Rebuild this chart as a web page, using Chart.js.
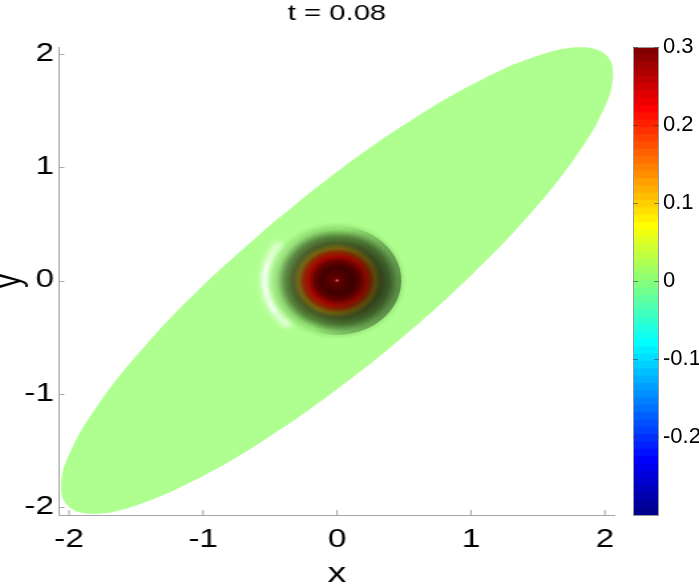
<!DOCTYPE html>
<html>
<head>
<meta charset="utf-8">
<script src="https://cdn.jsdelivr.net/npm/chart.js@4.4.1/dist/chart.umd.min.js"></script>
<style>
html,body{margin:0;padding:0;background:#fff;overflow:hidden}
/* the reference plot is stretched sideways, so is this one */
#chart{position:absolute;left:0;top:0;transform:scaleX(1.3289);transform-origin:0 0}
#cbar{position:absolute;left:615px;top:0}
</style>
</head>
<body>
<canvas id="chart" width="526" height="585"></canvas>
<canvas id="cbar" width="84" height="585"></canvas>
<script>
const titleText = 't = 0.08';
const xTicks = [-2, -1, 0, 1, 2];
const yTicks = [-2, -1, 0, 1, 2];
const cbarTicks = [-0.2, -0.1, 0, 0.1, 0.2, 0.3];
const cbarRange = [-0.3, 0.3];
const cbarLevels = 64;

// outline of the elliptic domain
const domainX = [-0.495, -0.996, -1.429, -1.764, -1.980, -2.060, -2.000, -1.804, -1.485, -1.064, -0.571, -0.040,
                 0.495, 0.996, 1.429, 1.764, 1.980, 2.060, 2.000, 1.804, 1.485, 1.064, 0.571, 0.040, -0.495];
const domainY = [0.495, -0.040, -0.571, -1.064, -1.485, -1.804, -2.000, -2.060, -1.980, -1.764, -1.429, -0.996,
                 -0.495, 0.040, 0.571, 1.064, 1.485, 1.804, 2.000, 2.060, 1.980, 1.764, 1.429, 0.996, 0.495];

// pulse at the origin: radius of each shade ring (data units)
const pulseR = [0, 0.018, 0.06, 0.12, 0.17, 0.215, 0.25, 0.285, 0.33, 0.39, 0.45, 0.52, 0.6];
const pulseColor = ['#ff7070', '#6a0000', '#560000', '#440000', '#6a0000', '#a80800', '#8e2800',
                    '#766410', '#465c26', '#56883c', '#90e070', '#afff90', '#afff90'];

const FONT = 'Liberation Sans, Arial, Helvetica, sans-serif';

// MATLAB jet(64), i = 1..64
function jet(i) {
  const u = k => (k < 1 || k > 47) ? 0 : k <= 16 ? k / 16 : k <= 31 ? 1 : (48 - k) / 16;
  const c = v => Math.round(v * 255);
  return 'rgb(' + c(u(i - 24)) + ',' + c(u(i - 8)) + ',' + c(u(i + 8)) + ')';
}

const pulsePlugin = {
  id: 'pulse',
  afterDatasetsDraw(chart) {
    const {ctx, chartArea: a, scales: {x, y}} = chart;
    const cx = x.getPixelForValue(0), cy = y.getPixelForValue(0);
    const sx = x.getPixelForValue(1) - cx, sy = cy - y.getPixelForValue(1);
    const R = pulseR[pulseR.length - 1];
    ctx.save();
    ctx.beginPath();
    ctx.rect(a.left, a.top, a.width, a.height);
    ctx.clip();
    ctx.translate(cx, cy);
    ctx.scale(sx, sy);
    const g = ctx.createRadialGradient(0, 0, 0, 0, 0, R);
    pulseR.forEach((r, k) => g.addColorStop(r / R, pulseColor[k]));
    ctx.fillStyle = g;
    ctx.beginPath();
    ctx.arc(0, 0, R, 0, Math.PI * 2);
    ctx.fill();

    // light from the left, shadow on the right
    ctx.save();
    ctx.beginPath();
    ctx.arc(0, 0, 0.48, 0, Math.PI * 2);
    ctx.clip();
    const lg = ctx.createLinearGradient(-0.48, -0.12, 0.48, 0.12);
    lg.addColorStop(0, 'rgba(255,255,255,0.12)');
    lg.addColorStop(0.42, 'rgba(0,0,0,0)');
    lg.addColorStop(1, 'rgba(0,0,0,0.42)');
    ctx.fillStyle = lg;
    ctx.fillRect(-0.5, -0.5, 1, 1);
    ctx.restore();

    // highlight on the lit rim
    ctx.lineCap = 'round';
    ctx.filter = 'blur(2.5px)';
    ctx.strokeStyle = 'rgba(255,255,255,0.8)';
    ctx.lineWidth = 0.05;
    ctx.beginPath();
    ctx.arc(0, 0, 0.54, Math.PI * 0.74, Math.PI * 1.2);
    ctx.stroke();
    ctx.filter = 'blur(1px)';
    ctx.strokeStyle = 'rgba(255,255,255,0.9)';
    ctx.lineWidth = 0.02;
    ctx.beginPath();
    ctx.arc(0, 0, 0.54, Math.PI * 0.83, Math.PI * 1.1);
    ctx.stroke();
    ctx.restore();
  }
};

const ticksPlugin = {
  id: 'inTicks',
  afterDraw(chart) {
    const {ctx, chartArea: a, scales: {x, y}} = chart;
    ctx.save();
    ctx.strokeStyle = '#a6a6a6';
    ctx.lineWidth = 1;
    ctx.beginPath();
    xTicks.forEach(v => {
      const px = x.getPixelForValue(v);
      ctx.moveTo(px, a.bottom);
      ctx.lineTo(px, a.bottom - 5);
    });
    yTicks.forEach(v => {
      const py = Math.round(y.getPixelForValue(v)) + 0.5;
      ctx.moveTo(a.left, py);
      ctx.lineTo(a.left + 4, py);
    });
    ctx.stroke();
    ctx.restore();
  }
};

const noPad = s => { s.paddingTop = 0; s.paddingBottom = 0; s.paddingLeft = 0; s.paddingRight = 0; };
const tickFont = {family: FONT, size: 25};

new Chart(document.getElementById('chart'), {
  type: 'scatter',
  data: {
    datasets: [{
      data: domainX.map((v, i) => ({x: v, y: domainY[i]})),
      showLine: true,
      fill: 'shape',
      backgroundColor: '#afff90',
      borderWidth: 0,
      pointRadius: 0,
      tension: 0.4
    }]
  },
  options: {
    responsive: false,
    animation: false,
    devicePixelRatio: 1,
    layout: {padding: {left: 0, top: 0, bottom: 0, right: 63.2}},
    plugins: {
      legend: {display: false},
      tooltip: {enabled: false},
      title: {
        display: true,
        text: titleText,
        fullSize: false,
        color: '#000',
        font: {family: FONT, size: 22, weight: 'normal', lineHeight: 1.2},
        padding: {top: 1, bottom: 19.6}
      }
    },
    scales: {
      x: {
        type: 'linear',
        min: -2.075,
        max: 2.075,
        afterBuildTicks: s => { s.ticks = xTicks.map(v => ({value: v})); },
        afterFit: s => { s.height = 70; noPad(s); },
        grid: {display: false, drawTicks: false},
        border: {color: '#a6a6a6'},
        ticks: {color: '#000', font: tickFont, padding: 10, maxRotation: 0, autoSkip: false, callback: v => String(v)},
        title: {display: true, text: 'x', color: '#000', font: {family: FONT, size: 28, lineHeight: 0.8}, padding: {top: 0, bottom: 0}}
      },
      y: {
        type: 'linear',
        min: -2.07,
        max: 2.062,
        afterBuildTicks: s => { s.ticks = yTicks.map(v => ({value: v})); },
        afterFit: s => { s.width = 44.4; noPad(s); },
        grid: {display: false, drawTicks: false},
        border: {color: '#a6a6a6'},
        ticks: {color: '#000', font: tickFont, padding: 3.8, autoSkip: false, callback: v => String(v)},
        title: {display: true, text: 'y', color: '#000', font: {family: FONT, size: 28, lineHeight: 0.5}, padding: {top: 0, bottom: 0}}
      }
    }
  },
  plugins: [pulsePlugin, ticksPlugin]
});

// colour bar: one floating bar per colormap level
const step = (cbarRange[1] - cbarRange[0]) / cbarLevels;
const levelSets = [];
for (let i = 1; i <= cbarLevels; i++) {
  levelSets.push({
    data: [[cbarRange[0] + (i - 1) * step, cbarRange[0] + i * step]],
    backgroundColor: jet(i),
    borderWidth: 0,
    inflateAmount: 0.5,
    grouped: false,
    barPercentage: 1,
    categoryPercentage: 1
  });
}

const cbarFrame = {
  id: 'cbarFrame',
  afterDatasetsDraw(chart) {
    const {ctx, chartArea: a, scales: {y}} = chart;
    ctx.save();
    ctx.strokeStyle = '#9a9a9a';
    ctx.lineWidth = 1;
    ctx.strokeRect(a.left + 0.5, a.top + 0.5, a.width - 1, a.height);
    ctx.strokeStyle = 'rgba(60,60,60,0.6)';
    ctx.beginPath();
    cbarTicks.forEach(v => {
      const py = Math.round(y.getPixelForValue(v)) + 0.5;
      ctx.moveTo(a.left, py); ctx.lineTo(a.left + 5, py);
      ctx.moveTo(a.right, py); ctx.lineTo(a.right - 5, py);
    });
    ctx.stroke();
    ctx.restore();
  }
};

new Chart(document.getElementById('cbar'), {
  type: 'bar',
  data: {labels: ['level'], datasets: levelSets},
  options: {
    responsive: false,
    animation: false,
    devicePixelRatio: 1,
    layout: {padding: {left: 18, top: 47, bottom: 70, right: 0}},
    plugins: {legend: {display: false}, tooltip: {enabled: false}, title: {display: false}},
    scales: {
      x: {display: false},
      y: {
        position: 'right',
        min: cbarRange[0],
        max: cbarRange[1],
        afterBuildTicks: s => { s.ticks = cbarTicks.map(v => ({value: v})); },
        afterFit: s => { s.width = 40; noPad(s); },
        grid: {display: false, drawTicks: false},
        border: {display: false},
        ticks: {color: '#000', font: {family: FONT, size: 22}, padding: 4, autoSkip: false,
                callback: v => String(Math.round(v * 10) / 10)}
      }
    }
  },
  plugins: [cbarFrame]
});
</script>
</body>
</html>
